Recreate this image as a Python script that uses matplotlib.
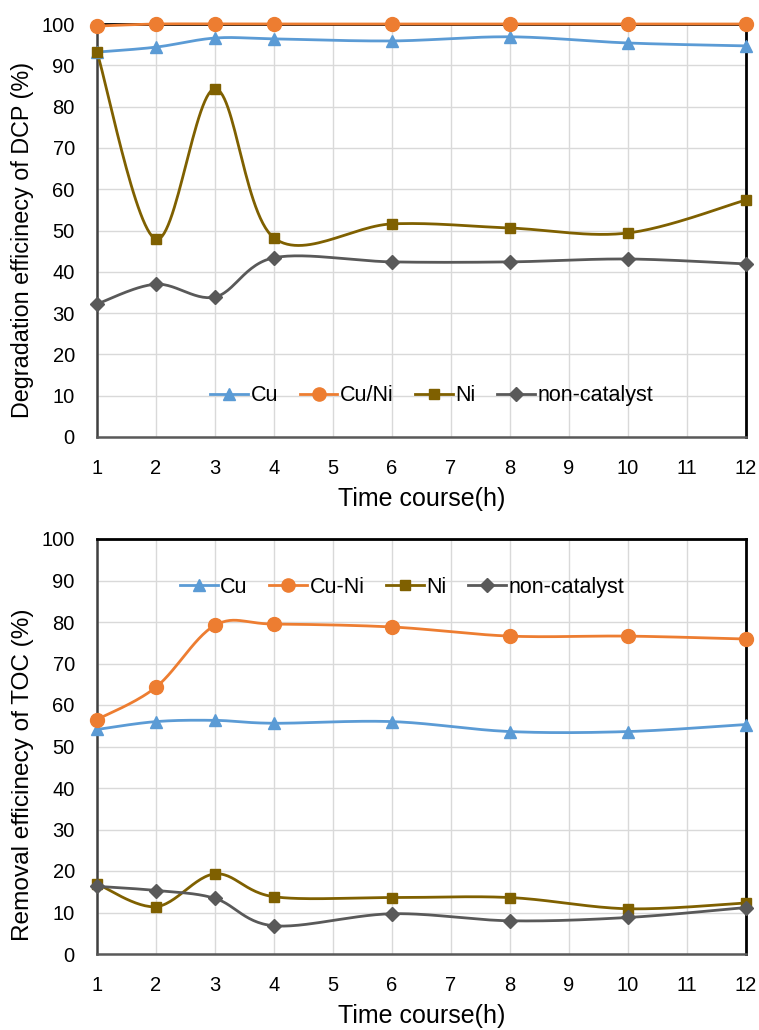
import numpy as np
import matplotlib
matplotlib.use("Agg")
import matplotlib.pyplot as plt

plt.rcParams['font.family'] = ['Liberation Sans', 'DejaVu Sans']

time_h = [1, 2, 3, 4, 6, 8, 10, 12]
x_ticks = list(range(1, 13))

# Degradation efficiency of DCP (%)
dcp_cu = [93.2, 94.4, 96.6, 96.4, 95.9, 96.9, 95.4, 94.7]
dcp_cuni = [99.5, 100, 100, 100, 100, 100, 100, 100]
dcp_ni = [93.2, 47.9, 84.3, 48.2, 51.6, 50.6, 49.4, 57.4]
dcp_non = [32.2, 37.0, 33.9, 43.4, 42.4, 42.4, 43.1, 41.9]

# Removal efficiency of TOC (%)
toc_cu = [54.1, 56.0, 56.3, 55.6, 56.0, 53.6, 53.6, 55.3]
toc_cuni = [56.5, 64.3, 79.2, 79.5, 78.8, 76.6, 76.6, 75.9]
toc_ni = [16.9, 11.4, 19.3, 13.8, 13.6, 13.6, 10.9, 12.3]
toc_non = [16.3, 15.3, 13.4, 6.8, 9.7, 8.0, 8.8, 11.2]

C_CU = '#5B9BD5'
C_CUNI = '#ED7D31'
C_NI = '#7F6000'
C_NON = '#595959'

fig = plt.figure(figsize=(7.59, 10.30), dpi=100)
W, H = 759, 1030


def smooth(x, y, sx, sy, n=30):
    # Excel-like smoothing: Catmull-Rom in screen-proportional space
    px = np.asarray(x, float) * sx
    py = np.asarray(y, float) * sy
    P = np.column_stack([px, py])
    P = np.vstack([P[0], P, P[-1]])
    out = []
    for i in range(1, len(P) - 2):
        p0, p1, p2, p3 = P[i - 1], P[i], P[i + 1], P[i + 2]
        c1 = p1 + (p2 - p0) / 6.0
        c2 = p2 - (p3 - p1) / 6.0
        t = np.linspace(0, 1, n)[:, None]
        seg = ((1 - t) ** 3) * p1 + 3 * ((1 - t) ** 2) * t * c1 + 3 * (1 - t) * t ** 2 * c2 + t ** 3 * p2
        if i > 1:
            seg = seg[1:]
        out.append(seg)
    out = np.vstack(out)
    return out[:, 0] / sx, out[:, 1] / sy


def make_panel(rect, series, ylabel, ylabel_y, ylabel_size, legend_xy):
    ax = fig.add_axes(rect)
    ax.set_xlim(1, 12)
    ax.set_ylim(0, 100)
    sx = rect[2] * W / 11.0
    sy = rect[3] * H / 100.0
    ax.set_xticks(x_ticks)
    ax.set_yticks(range(0, 101, 10))
    ax.grid(True, color='#D9D9D9', linewidth=1.0)
    ax.set_axisbelow(True)
    ax.tick_params(axis='both', length=0, labelsize=14.5, colors='black')
    ax.tick_params(axis='x', pad=16)
    ax.tick_params(axis='y', pad=16)
    for side in ['top', 'right']:
        ax.spines[side].set_color('black')
        ax.spines[side].set_linewidth(2.0)
    ax.spines['left'].set_color('#404040')
    ax.spines['left'].set_linewidth(1.8)
    ax.spines['bottom'].set_color('#595959')
    ax.spines['bottom'].set_linewidth(1.8)
    handles = []
    for vals, color, marker, ms, label in series:
        xs, ys = smooth(time_h, vals, sx, sy)
        ax.plot(xs, ys, color=color, linewidth=2.0, clip_on=False, zorder=3)
        ax.plot(time_h, vals, linestyle='none', marker=marker, markersize=ms,
                color=color, markeredgecolor=color, clip_on=False, zorder=4)
        h, = ax.plot([], [], color=color, linewidth=2.0, marker=marker,
                     markersize=ms * 0.95, markeredgecolor=color, label=label)
        handles.append(h)
    ax.set_xlabel('Time course(h)', fontsize=18, labelpad=6)
    fig.text(23 / W, 1 - ylabel_y / H, ylabel, rotation=90, fontsize=ylabel_size,
             ha='center', va='center')
    ax.legend(handles=handles, loc='center', bbox_to_anchor=legend_xy,
              ncol=4, frameon=False, fontsize=15.5, handlelength=1.75,
              handletextpad=0.12, columnspacing=1.0, borderaxespad=0)
    return ax


top_rect = [97 / W, 1 - 437 / H, (746 - 97) / W, (437 - 24) / H]
bot_rect = [97 / W, 1 - 954 / H, (746 - 97) / W, (954 - 539) / H]

make_panel(top_rect, [
    (dcp_cu, C_CU, '^', 9, 'Cu'),
    (dcp_cuni, C_CUNI, 'o', 10, 'Cu/Ni'),
    (dcp_ni, C_NI, 's', 7, 'Ni'),
    (dcp_non, C_NON, 'D', 7, 'non-catalyst'),
], 'Degradation efficinecy of DCP (%)', 240, 16.8, (0.516, 0.10))

make_panel(bot_rect, [
    (toc_cu, C_CU, '^', 9, 'Cu'),
    (toc_cuni, C_CUNI, 'o', 10, 'Cu-Ni'),
    (toc_ni, C_NI, 's', 7, 'Ni'),
    (toc_non, C_NON, 'D', 7, 'non-catalyst'),
], 'Removal efficinecy of TOC (%)', 775, 17.6, (0.47, 0.884))

fig.savefig('out.png', dpi=100)
